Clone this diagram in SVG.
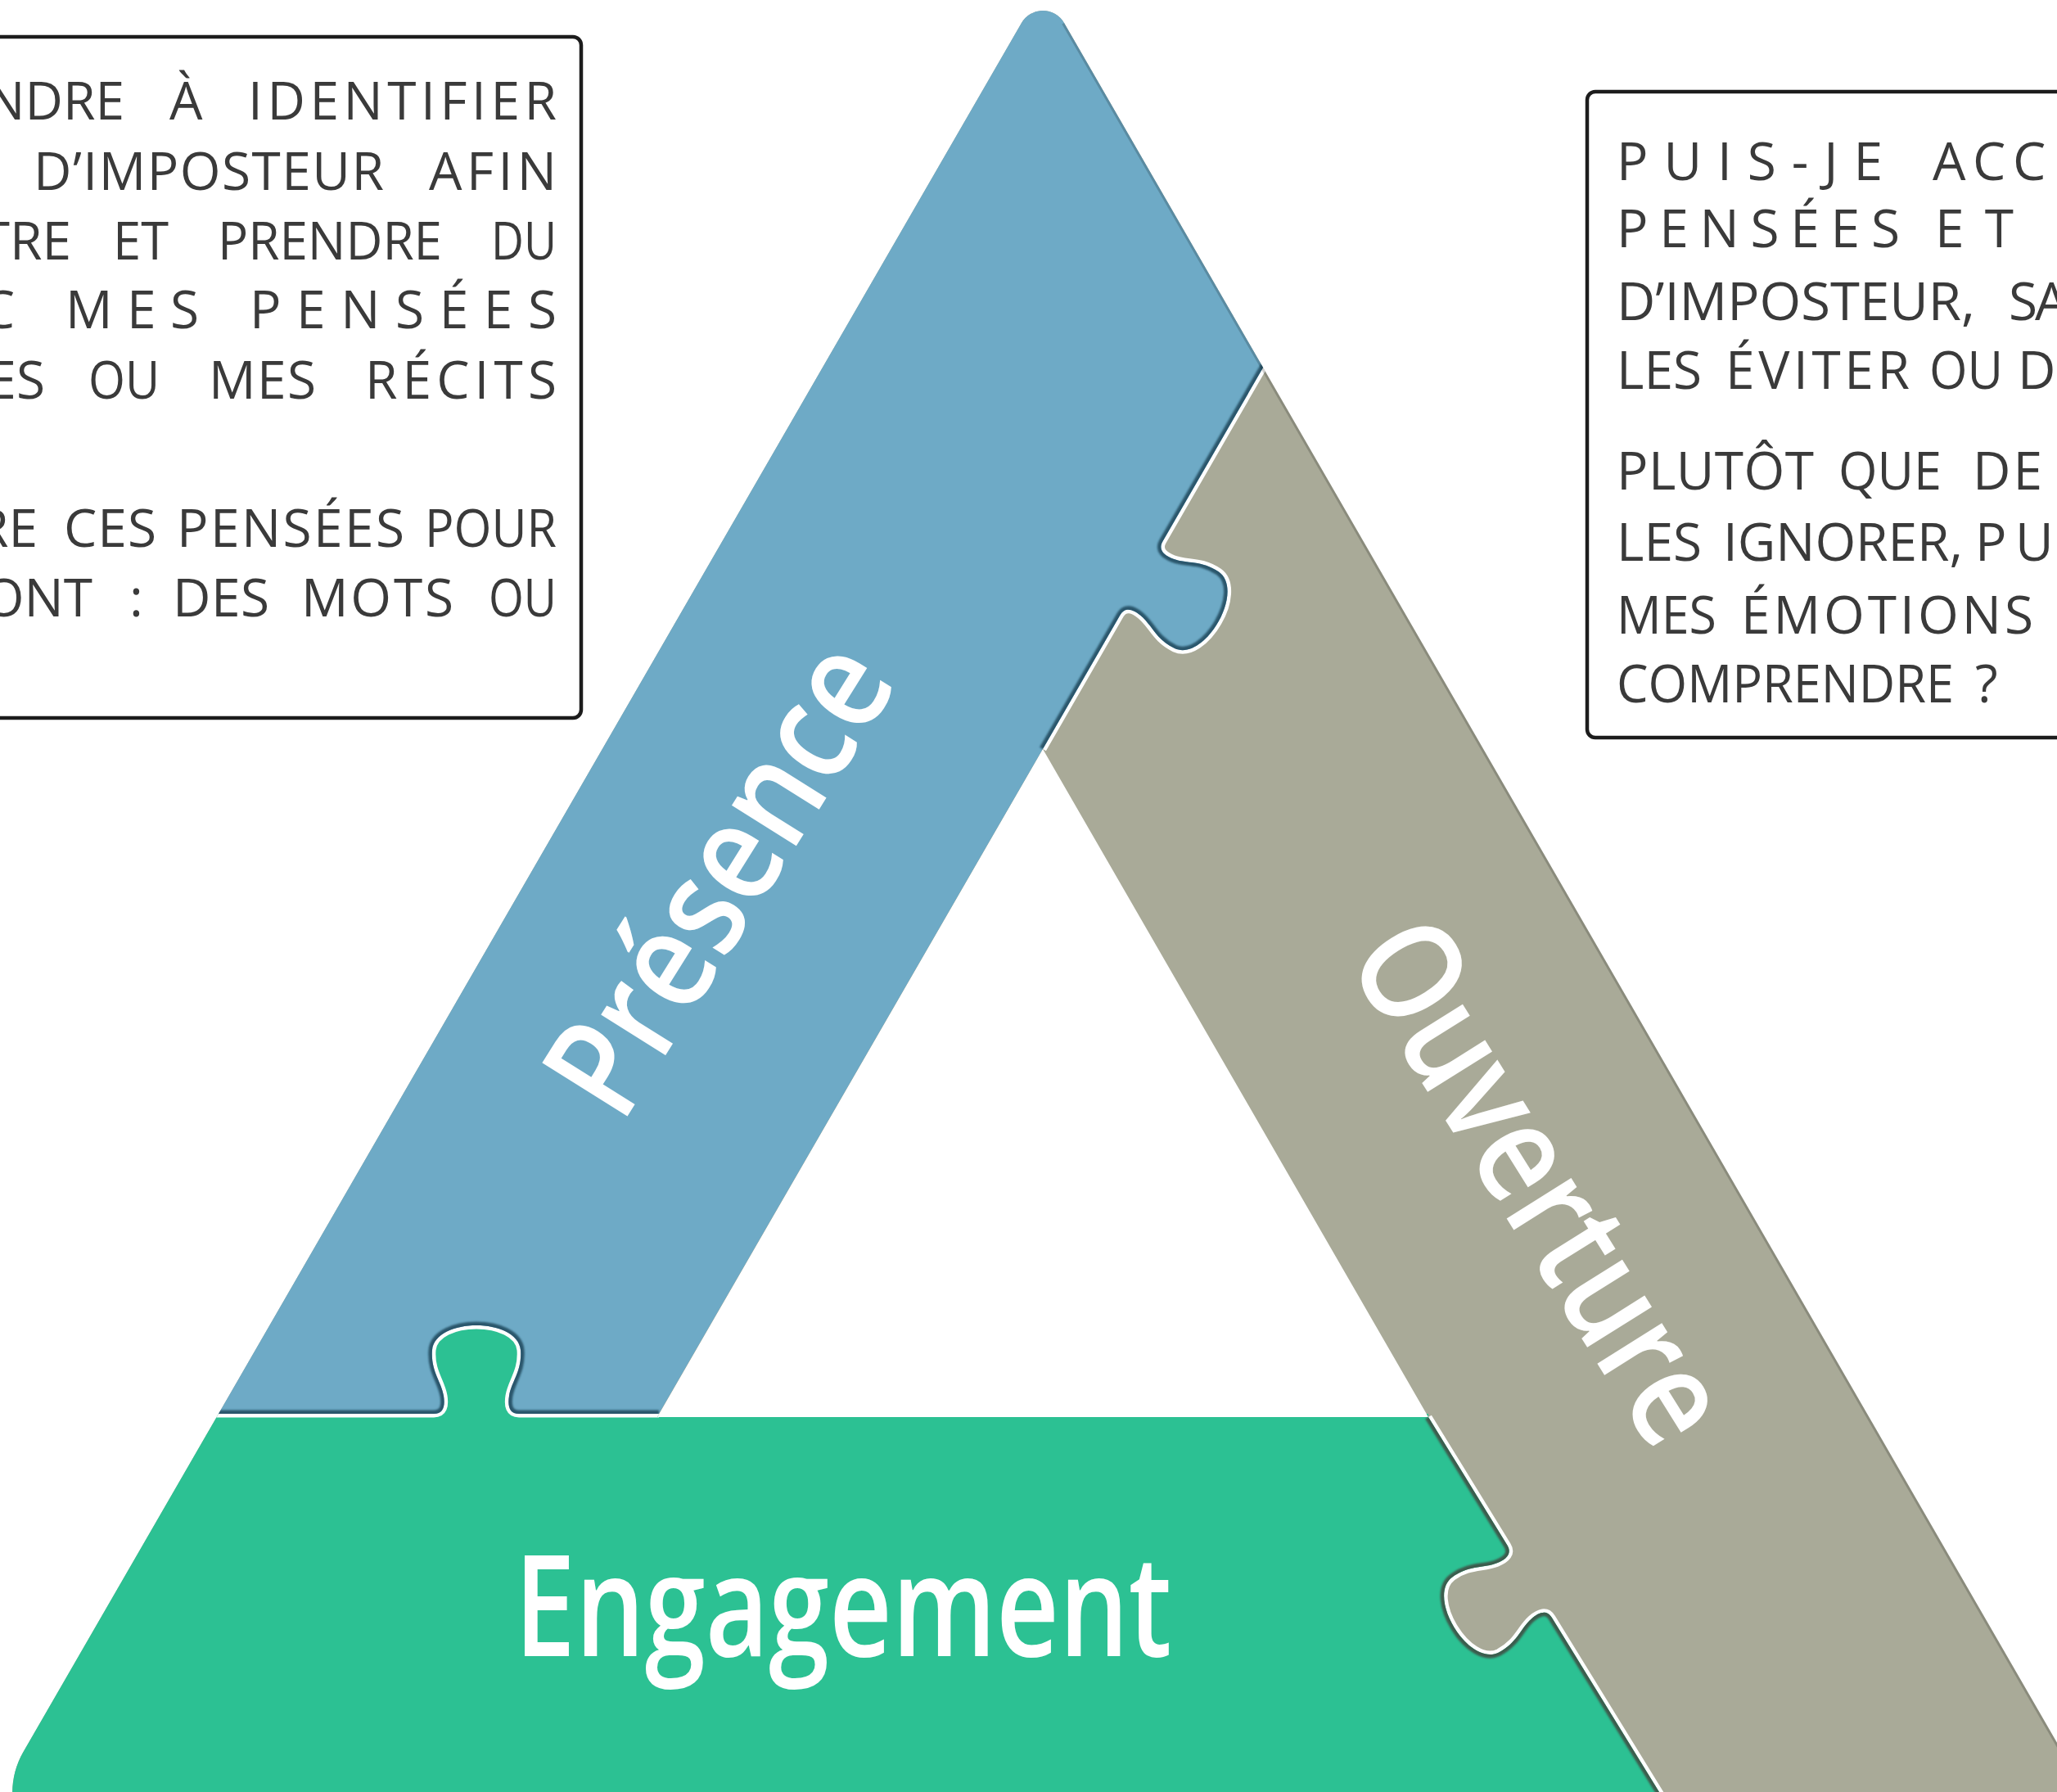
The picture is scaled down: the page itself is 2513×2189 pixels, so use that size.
<svg xmlns="http://www.w3.org/2000/svg" width="2513" height="2189" viewBox="0 0 2513 2189">
  <defs>
    <style>
      .note{fill:#fff;stroke:#1c1c1c;stroke-width:4.5}
      .w{font-family:"Open Sans","DejaVu Sans",sans-serif;font-size:64px;fill:#3a3a3a}
      .lbl{font-family:"Open Sans","DejaVu Sans",sans-serif;font-size:172px;font-weight:600;fill:#fff}
      .seam-light{fill:none;stroke:#fff;stroke-width:9;stroke-linejoin:round}
      .seam-dark{fill:none;stroke-width:9;stroke-linejoin:round}
    </style>
    <filter id="soft" x="-10%" y="-10%" width="120%" height="120%">
      <feGaussianBlur stdDeviation="1.2"/>
    </filter>
    <!-- outer triangle with rounded corners, minus the central hole -->
    <path id="outline" fill-rule="evenodd" clip-rule="evenodd" d="M1248 28 A30 30 0 0 1 1300 28 L2519.5 2140 A100 100 0 0 1 2433 2290 L115 2290 A100 100 0 0 1 28.5 2140 Z M1274 915 L1745 1731 L803 1731 Z"/>
    <!-- bottom piece region (clipped by the outline) -->
    <path id="shape-eng" d="M-200 1727 L530 1727 C542 1727 544 1717 542 1705 C539 1687 526 1675 528 1649 C532 1609 632 1609 636 1649 C638 1675 625 1687 622 1705 C620 1717 622 1727 634 1727 L805 1727 L1745 1727 L1745 1731 L1841.4 1887.6 C1847.7 1897.8 1840.3 1904.7 1829 1909.3 C1812.1 1916.2 1795 1911.4 1774 1926.8 C1742.1 1951.1 1794.5 2036.2 1830.6 2018.7 C1853.7 2006.7 1857.2 1989.4 1870.9 1977.4 C1880.1 1969.4 1889.6 1965.9 1895.9 1976.1 L2111.8 2326.7 L-200 2400 Z"/>
    <!-- left piece region (clipped by the outline) -->
    <path id="shape-pre" d="M-200 1727 L530 1727 C542 1727 544 1717 542 1705 C539 1687 526 1675 528 1649 C532 1609 632 1609 636 1649 C638 1675 625 1687 622 1705 C620 1717 622 1727 634 1727 L805 1727 L1274 915 L1368.5 751.3 C1374.5 740.9 1384.2 744.2 1393.6 751.9 C1407.6 763.5 1411.5 780.8 1435 792.1 C1471.7 808.6 1521.7 722 1489 698.5 C1467.5 683.8 1450.6 689.1 1433.6 682.7 C1422.2 678.4 1414.5 671.7 1420.5 661.3 L1624 309 L1624 -300 L-200 -300 Z"/>
    <!-- seams between pieces -->
    <path id="seam-pe" d="M-200 1727 L530 1727 C542 1727 544 1717 542 1705 C539 1687 526 1675 528 1649 C532 1609 632 1609 636 1649 C638 1675 625 1687 622 1705 C620 1717 622 1727 634 1727 L805 1727"/>
    <path id="seam-po" d="M1274 915 L1368.5 751.3 C1374.5 740.9 1384.2 744.2 1393.6 751.9 C1407.6 763.5 1411.5 780.8 1435 792.1 C1471.7 808.6 1521.7 722 1489 698.5 C1467.5 683.8 1450.6 689.1 1433.6 682.7 C1422.2 678.4 1414.5 671.7 1420.5 661.3 L1624 309"/>
    <path id="seam-oe" d="M1745 1731 L1841.4 1887.6 C1847.7 1897.8 1840.3 1904.7 1829 1909.3 C1812.1 1916.2 1795 1911.4 1774 1926.8 C1742.1 1951.1 1794.5 2036.2 1830.6 2018.7 C1853.7 2006.7 1857.2 1989.4 1870.9 1977.4 C1880.1 1969.4 1889.6 1965.9 1895.9 1976.1 L2111.8 2326.7"/>
    <clipPath id="clip-tri"><use href="#outline"/></clipPath>
    <clipPath id="clip-pre"><use href="#shape-pre"/></clipPath>
    <clipPath id="clip-eng"><use href="#shape-eng"/></clipPath>
  </defs>

  <rect width="2513" height="2189" fill="#fff"/>

  <!-- right piece: fills the whole outline, the other two are laid over it -->
  <g id="ouverture">
    <use href="#outline" fill="#a9aa98"/>
    <g clip-path="url(#clip-tri)">
      <use href="#seam-po" class="seam-light"/>
      <use href="#seam-oe" class="seam-light"/>
    </g>
    <text class="lbl" transform="translate(1878 1446) rotate(58)" x="0" y="54" text-anchor="middle" textLength="715" lengthAdjust="spacingAndGlyphs">Ouverture</text>
  </g>

  <!-- bottom piece -->
  <g id="engagement">
    <g clip-path="url(#clip-tri)">
      <use href="#shape-eng" fill="#2cc193"/>
      <use href="#seam-pe" class="seam-light"/>
      <g clip-path="url(#clip-eng)">
        <use href="#seam-oe" class="seam-dark" stroke="#3d5b4d" filter="url(#soft)"/>
      </g>
    </g>
    <text class="lbl" x="1030" y="2023" text-anchor="middle" textLength="803" lengthAdjust="spacingAndGlyphs">Engagement</text>
  </g>

  <!-- left piece -->
  <g id="presence">
    <g clip-path="url(#clip-tri)">
      <use href="#shape-pre" fill="#6eaac6"/>
      <g clip-path="url(#clip-pre)">
        <use href="#seam-pe" class="seam-dark" stroke="#2a566c" filter="url(#soft)"/>
        <use href="#seam-po" class="seam-dark" stroke="#2a566c" filter="url(#soft)"/>
      </g>
    </g>
    <text class="lbl" transform="translate(883 1075) rotate(-58)" x="0" y="54" text-anchor="middle" textLength="640" lengthAdjust="spacingAndGlyphs">Présence</text>
  </g>

  <!-- darker rim along the right-hand outer edge -->
  <g id="rim" clip-path="url(#clip-tri)">
    <path d="M1300 28 L2519.5 2140" fill="none" stroke="#000" stroke-opacity="0.18" stroke-width="6"/>
  </g>

  <!-- left note -->
  <g id="note-presence">
    <rect class="note" x="-30" y="45" width="740" height="832" rx="10"/>
    <text class="w" x="152" y="146" text-anchor="end">NDRE</text>
    <text class="w" x="207" y="146">À</text>
    <text class="w" x="303" y="146" textLength="377">IDENTIFIER</text>

    <text class="w" x="41" y="232" textLength="428">D’IMPOSTEUR</text>
    <text class="w" x="524" y="232" textLength="156">AFIN</text>

    <text class="w" x="87" y="317" text-anchor="end">TRE</text>
    <text class="w" x="138" y="317" textLength="68" lengthAdjust="spacingAndGlyphs">ET</text>
    <text class="w" x="266" y="317" textLength="274" lengthAdjust="spacingAndGlyphs">PRENDRE</text>
    <text class="w" x="600" y="317" textLength="80" lengthAdjust="spacingAndGlyphs">DU</text>

    <text class="w" x="18" y="401" text-anchor="end">C</text>
    <text class="w" x="80" y="401" textLength="163">MES</text>
    <text class="w" x="305" y="401" textLength="375">PENSÉES</text>

    <text class="w" x="55" y="487" text-anchor="end">ES</text>
    <text class="w" x="108" y="487" textLength="87" lengthAdjust="spacingAndGlyphs">OU</text>
    <text class="w" x="255" y="487" textLength="131">MES</text>
    <text class="w" x="446" y="487" textLength="234">RÉCITS</text>

    <text class="w" x="46" y="668" text-anchor="end">RE</text>
    <text class="w" x="78" y="668" textLength="113">CES</text>
    <text class="w" x="216" y="668" textLength="278">PENSÉES</text>
    <text class="w" x="519" y="668" textLength="161" lengthAdjust="spacingAndGlyphs">POUR</text>

    <text class="w" x="113" y="753" text-anchor="end">ONT</text>
    <text class="w" x="158" y="753">:</text>
    <text class="w" x="211" y="753" textLength="118">DES</text>
    <text class="w" x="368" y="753" textLength="186">MOTS</text>
    <text class="w" x="597" y="753" textLength="83" lengthAdjust="spacingAndGlyphs">OU</text>
  </g>

  <!-- right note -->
  <g id="note-ouverture">
    <rect class="note" x="1939" y="112" width="700" height="789" rx="10"/>
    <text class="w" x="1975" y="220" textLength="325">PUIS-JE</text>
    <text class="w" x="2361 2410 2459" y="220">ACC</text>

    <text class="w" x="1975" y="302" textLength="346">PENSÉES</text>
    <text class="w" x="2364" y="302" textLength="96">ET</text>

    <text class="w" x="1975" y="391" textLength="438" lengthAdjust="spacingAndGlyphs">D’IMPOSTEUR,</text>
    <text class="w" x="2454 2486" y="391">SA</text>

    <text class="w" x="1975" y="475" textLength="104">LES</text>
    <text class="w" x="2108" y="475" textLength="225">ÉVITER</text>
    <text class="w" x="2357" y="475" textLength="90" lengthAdjust="spacingAndGlyphs">OU</text>
    <text class="w" x="2465" y="475">D</text>

    <text class="w" x="1975" y="598" textLength="241">PLUTÔT</text>
    <text class="w" x="2246" y="598" textLength="126" lengthAdjust="spacingAndGlyphs">QUE</text>
    <text class="w" x="2410" y="598" textLength="85">DE</text>

    <text class="w" x="1975" y="685" textLength="104">LES</text>
    <text class="w" x="2105" y="685" textLength="293">IGNORER,</text>
    <text class="w" x="2413 2462" y="685">PU</text>

    <text class="w" x="1975" y="774" textLength="122" lengthAdjust="spacingAndGlyphs">MES</text>
    <text class="w" x="2127" y="774" textLength="357">ÉMOTIONS</text>

    <text class="w" x="1975" y="858" textLength="412" lengthAdjust="spacingAndGlyphs">COMPRENDRE</text>
    <text class="w" x="2413" y="858">?</text>
  </g>
</svg>
